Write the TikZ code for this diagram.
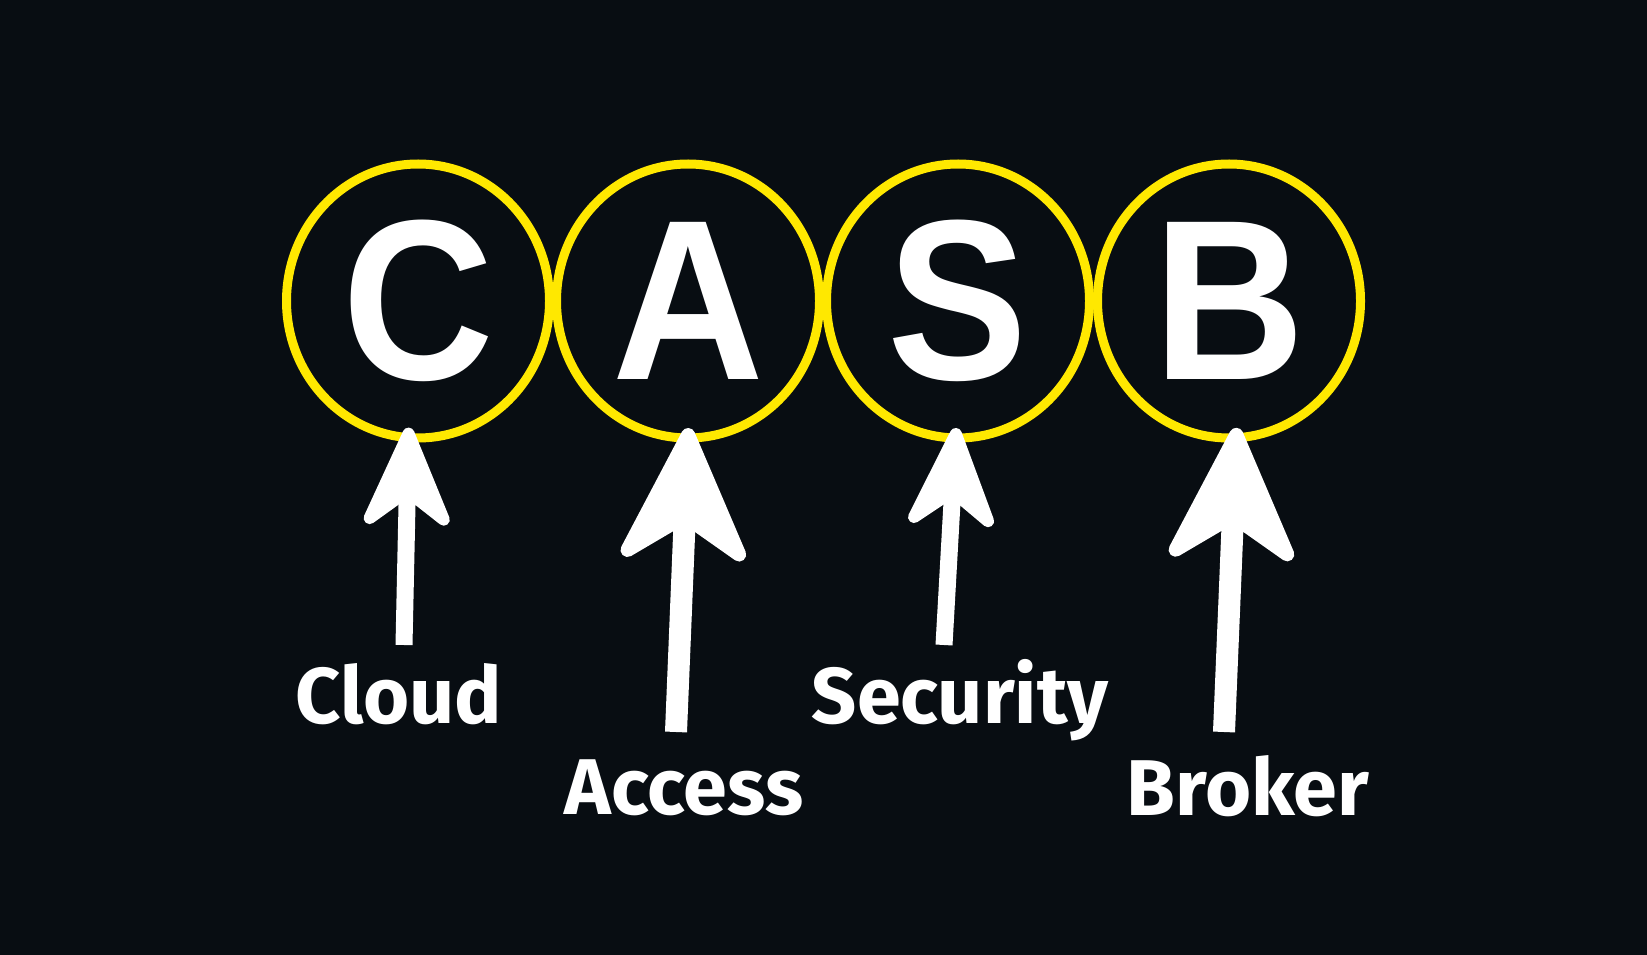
\documentclass[tikz,border=0pt]{standalone}
\usepackage{fontspec}
\newfontfamily\letterfont{Liberation Sans}[FakeStretch=0.92]
\newfontfamily\wordfont{Fira Sans}
\usetikzlibrary{arrows.meta,shapes.geometric}
\definecolor{bg}{RGB}{8,13,18}
\definecolor{ringyellow}{RGB}{255,232,0}
\tikzset{
  ring/.style={ellipse,draw=ringyellow,line width=0.9mm,minimum width=26.3mm,minimum height=27.4mm,inner sep=0pt,outer sep=0pt,text=white,font=\letterfont\bfseries\fontsize{65}{65}\selectfont},
  word/.style={anchor=base,text=white,inner sep=0pt,font=\wordfont\bfseries\fontsize{22.5}{22.5}\selectfont},
  thin arrow/.style={draw=white,line width=1.7mm,shorten >=-1mm,-{Stealth[length=11.8mm,width=10.2mm,inset=3.8mm,round,line width=1.2mm]}},
  thick arrow/.style={draw=white,line width=2.2mm,shorten >=-1mm,-{Stealth[length=15.2mm,width=14.4mm,inset=4.6mm,round,line width=1.4mm]}}
}
\begin{document}
\begin{tikzpicture}[x=0.1mm,y=-0.1mm]
\fill[bg] (0,0) rectangle (1647,955);

\node[ring] (C) at (418,301) {C};
\node[ring] (A) at (688,301) {A};
\node[ring] (S) at (958,301) {S};
\node[ring] (B) at (1229,301) {B};

\coordinate (C foot) at (404,645);
\coordinate (A foot) at (676,732);
\coordinate (S foot) at (944,645);
\coordinate (B foot) at (1224,732);

\draw[thin arrow] (C foot) -- (C.266);
\draw[thick arrow] (A foot) -- (A.270);
\draw[thin arrow] (S foot) -- (S.269);
\draw[thick arrow] (B foot) -- (B.273);

\node[word] (cloud) at (399,723) {Cloud};
\node[word] (access) at (684,814) {Access};
\node[word] (security) at (960,723) {Security};
\node[word] (broker) at (1248,815) {Broker};

\end{tikzpicture}
\end{document}
